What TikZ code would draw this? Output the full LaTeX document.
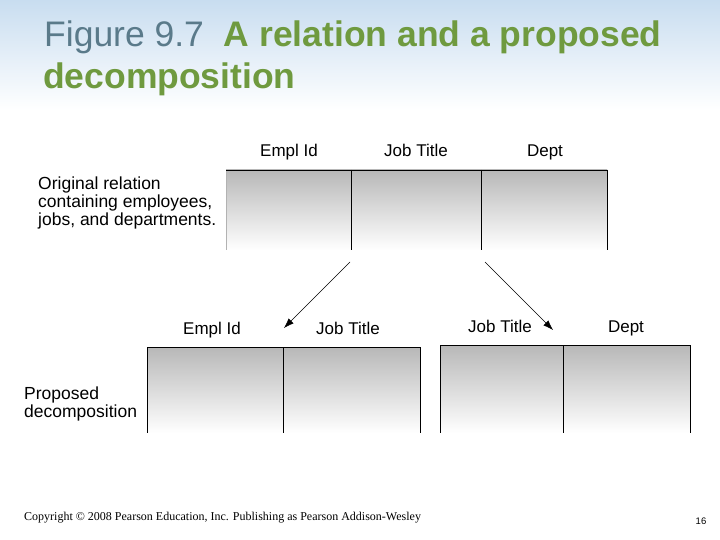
\documentclass[tikz,border=0pt]{standalone}
\usepackage{fontspec}
\setmainfont{Liberation Sans}
\newfontfamily\tnr{Liberation Serif}
\usetikzlibrary{arrows.meta}
\definecolor{ttlgreen}{HTML}{6F9A3F}
\definecolor{ttlgray}{HTML}{5A7A8A}
\definecolor{barblue}{HTML}{C8DDF0}
\begin{document}
\begin{tikzpicture}[x=1pt,y=-1pt,
  cellf/.style={top color=black!28,bottom color=white,draw=none},
  hdr/.style={font=\fontsize{17}{18}\selectfont,anchor=center,text height=12pt,text depth=3pt},
  lbl/.style={font=\fontsize{17.5}{18}\selectfont,align=left,anchor=north west,inner sep=0},
  arr/.style={-{Latex[length=10pt,width=7pt]},thin}]
\useasboundingbox (0,0) rectangle (720,540);
\fill[white] (0,0) rectangle (720,540);
\shade[top color=barblue,bottom color=white] (0,0) rectangle (720,110);
\node[anchor=west,inner sep=0,font=\fontsize{35.5}{40}\selectfont] (t1) at (44,37) {\textcolor{ttlgray}{Figure 9.7}\ \ \textcolor{ttlgreen}{\bfseries A relation and a proposed}};
\node[anchor=west,inner sep=0,font=\fontsize{35.5}{40}\selectfont\bfseries,text=ttlgreen] (t2) at (43,79) {decomposition};
% top table
\shade[cellf] (226,170) rectangle (607,250);
\draw[black!30] (226,170) -- (226,250);
\draw (226,170) -- (607,170);
\draw (351,170) -- (351,250) (481,170) -- (481,250) (607,170) -- (607,250);
\node[hdr] (h1) at (289,152) {Empl Id};
\node[hdr] (h2) at (416,152) {Job Title};
\node[hdr] (h3) at (545,152) {Dept};
\node[lbl] (l1) at (38,177) {Original relation\\containing employees,\\jobs, and departments.};
% bottom left
\shade[cellf] (147,347) rectangle (420,433);
\draw (147,347) -- (420,347) (147,347) -- (147,433) (283,347) -- (283,433) (420,347) -- (420,433);
\node[hdr] (b1) at (212,330) {Empl Id};
\node[hdr] (b2) at (348,330) {Job Title};
% bottom right
\shade[cellf] (440,345) rectangle (690,433);
\draw (440,345) -- (690,345) (440,345) -- (440,433) (563,345) -- (563,433) (690,345) -- (690,433);
\node[hdr] (c1) at (500,328) {Job Title};
\node[hdr] (c2) at (626,328) {Dept};
\node[lbl] (l2) at (24,387) {Proposed\\decomposition};
\coordinate (a1s) at (350,262); \coordinate (a1e) at (284,328);
\coordinate (a2s) at (485,262); \coordinate (a2e) at (553,330);
\draw[arr] (a1s) -- (a1e);
\draw[arr] (a2s) -- (a2e);
\node[anchor=west,inner sep=0,font=\tnr\fontsize{12}{14}\selectfont] (cp) at (24,518) {Copyright © 2008 Pearson Education, Inc. Publishing as Pearson Addison-Wesley};
\node[inner sep=0,font=\fontsize{9.5}{11}\selectfont] (pg) at (701,521) {16};
\end{tikzpicture}
\end{document}
